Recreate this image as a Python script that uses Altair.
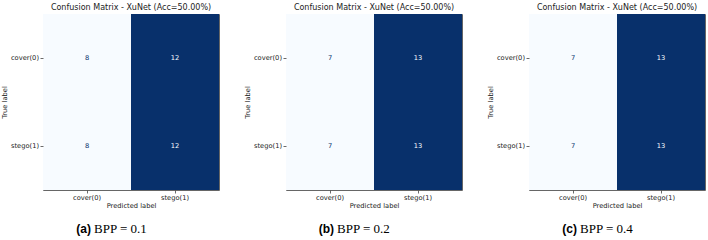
import altair as alt
import pandas as pd

# Class labels (rows = true label, columns = predicted label)
classes = ["cover(0)", "stego(1)"]

# Confusion-matrix counts, row-major: [cover->cover, cover->stego, stego->cover, stego->stego]
counts_a = [8, 12, 8, 12]
counts_b = [7, 13, 7, 13]
counts_c = [7, 13, 7, 13]

panel_tags = ["(a)", "(b)", "(c)"]
panel_bpp = ["BPP = 0.1", "BPP = 0.2", "BPP = 0.4"]
panel_title = "Confusion Matrix - XuNet (Acc=50.00%)"

LIGHT = "#f7fbff"
DARK = "#08306b"
SIZE = 176


def panel(counts, tag, bpp):
    df = pd.DataFrame({
        "true": [classes[0], classes[0], classes[1], classes[1]],
        "pred": [classes[0], classes[1], classes[0], classes[1]],
        "count": counts,
    })
    lo, hi = min(counts), max(counts)
    mid = (lo + hi) / 2

    x = alt.X("pred:N", sort=classes,
              scale=alt.Scale(paddingInner=0, paddingOuter=0),
              axis=alt.Axis(title="Predicted label", labelAngle=0, titlePadding=1))
    y = alt.Y("true:N", sort=classes,
              scale=alt.Scale(paddingInner=0, paddingOuter=0),
              axis=alt.Axis(title="True label"))

    base = alt.Chart(df)
    cells = base.mark_rect().encode(
        x=x, y=y,
        color=alt.Color("count:Q",
                        scale=alt.Scale(domain=[lo, hi], range=[LIGHT, DARK]),
                        legend=None),
    )
    values = base.mark_text(font="DejaVu Sans", fontSize=6.7).encode(
        x=x, y=y,
        text="count:Q",
        color=alt.condition(f"datum['count'] > {mid}", alt.value(LIGHT), alt.value(DARK)),
    )

    cap = pd.DataFrame({"tag": [tag], "bpp": [bpp]})
    cap_tag = alt.Chart(cap).mark_text(
        align="right", baseline="middle", font="Liberation Sans",
        fontWeight="bold", fontSize=12, color="#000",
    ).encode(x=alt.value(48), y=alt.value(215), text="tag:N")
    cap_bpp = alt.Chart(cap).mark_text(
        align="left", baseline="middle", font="Liberation Serif",
        fontSize=13, color="#000",
    ).encode(x=alt.value(51), y=alt.value(215), text="bpp:N")

    return alt.layer(cells, values, cap_tag, cap_bpp).properties(
        width=SIZE, height=SIZE,
        title=alt.TitleParams(panel_title, font="DejaVu Sans", fontSize=8,
                              fontWeight="normal", color="#222",
                              frame="group", anchor="middle", offset=2),
    )


chart = alt.hconcat(
    panel(counts_a, panel_tags[0], panel_bpp[0]),
    panel(counts_b, panel_tags[1], panel_bpp[1]),
    panel(counts_c, panel_tags[2], panel_bpp[2]),
    spacing=23,
).resolve_scale(color="independent").properties(
    padding={"left": 0, "top": 3, "right": 0, "bottom": 0},
    background="white",
).configure_view(
    stroke="#666", strokeWidth=1,
).configure_axis(
    domain=False,
    grid=False,
    ticks=True, tickColor="#444", tickSize=3, tickWidth=0.8,
    labelFont="DejaVu Sans", labelFontSize=6.7, labelColor="#222", labelPadding=1.5,
    titleFont="DejaVu Sans", titleFontSize=6.7, titleFontWeight="normal",
    titleColor="#222", titlePadding=3,
)

chart.save("out.html", embed_options={"renderer": "svg", "actions": False})
